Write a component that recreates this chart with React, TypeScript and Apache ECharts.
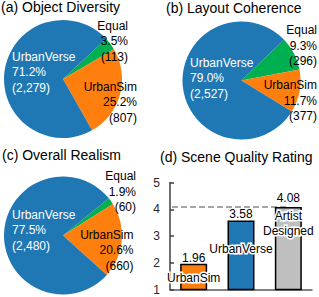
import React, { useEffect, useRef } from "react";
import * as echarts from "echarts";

// ---- data ----
const PIE_TITLES = ["(a) Object Diversity", "(b) Layout Coherence", "(c) Overall Realism"];
const SLICE_NAMES = ["Equal", "UrbanSim", "UrbanVerse"];
const DIVERSITY_COUNTS = [113, 807, 2279];
const DIVERSITY_PCT = [3.5, 25.2, 71.2];
const COHERENCE_COUNTS = [296, 377, 2527];
const COHERENCE_PCT = [9.3, 11.7, 79.0];
const REALISM_COUNTS = [60, 660, 2480];
const REALISM_PCT = [1.9, 20.6, 77.5];

const BAR_TITLE = "(d) Scene Quality Rating";
const RATING_CATEGORIES = ["UrbanSim", "UrbanVerse", "Artist Designed"];
const RATING_VALUES = [1.96, 3.58, 4.08];
const RATING_REFERENCE = 4.08;
const Y_MIN = 1;
const Y_MAX = 5;

// ---- styles / layout ----
const FONT = "'Liberation Sans', Arial, sans-serif";
const SLICE_COLORS = ["#00b050", "#ff7f0e", "#1f77b4"];
const SLICE_LABEL_COLORS = ["#000", "#000", "#fff"];
const BAR_COLORS = ["#ff7f0e", "#1f77b4", "#bfbfbf"];

const PIE_LAYOUT = [
  {
    center: [63, 79],
    radius: 59,
    startAngle: 43,
    labels: [
      { x: 128, y: 41, align: "right" },
      { x: 137, y: 102, align: "right" },
      { x: 12, y: 72, align: "left" },
    ],
    title: { left: 1, top: 0 },
  },
  {
    center: [241.5, 80.5],
    radius: 59,
    startAngle: 44,
    labels: [
      { x: 317, y: 45.5, align: "right" },
      { x: 317, y: 100.5, align: "right" },
      { x: 190, y: 78, align: "left" },
    ],
    title: { left: 166, top: 1 },
  },
  {
    center: [63, 235.5],
    radius: 59,
    startAngle: 39,
    labels: [
      { x: 136, y: 191.5, align: "right" },
      { x: 133.5, y: 250, align: "right" },
      { x: 12, y: 230, align: "left" },
    ],
    title: { left: 2, top: 148 },
  },
];

const GRID = { left: 170, right: 7, top: 182.5, bottom: 7.5 };
const VALUE_LABEL_GAP = [0, 0, 3];
const NAME_LABEL_POS: any[] = [
  { position: "insideBottom", distance: 4 },
  { position: "inside", offset: [0, -6] },
  { position: "insideTop", distance: 1 },
];

export default function App() {
  const ref = useRef<HTMLDivElement>(null);

  useEffect(() => {
    if (!ref.current) return;
    const chart = echarts.init(ref.current, undefined, { renderer: "svg" });

    const counts = [DIVERSITY_COUNTS, COHERENCE_COUNTS, REALISM_COUNTS];
    const pcts = [DIVERSITY_PCT, COHERENCE_PCT, REALISM_PCT];

    const pieSeries = counts.map((arr, k) => {
      const lay = PIE_LAYOUT[k];
      return {
        type: "pie",
        center: lay.center,
        radius: lay.radius,
        startAngle: lay.startAngle,
        clockwise: true,
        silent: true,
        minShowLabelAngle: 0,
        avoidLabelOverlap: false,
        itemStyle: { borderWidth: 0 },
        labelLine: { show: false },
        label: {
          show: true,
          position: "inside",
          fontSize: 12,
          lineHeight: 15.5,
          fontFamily: FONT,
          formatter: (p: any) =>
            `${p.name}\n${pcts[k][p.dataIndex].toFixed(1)}%\n(${Number(p.value).toLocaleString("en-US")})`,
        },
        labelLayout: (p: any) => {
          const l = lay.labels[p.dataIndex];
          return { x: l.x, y: l.y, align: l.align, verticalAlign: "middle" };
        },
        data: arr.map((v, i) => ({
          name: SLICE_NAMES[i],
          value: v,
          itemStyle: { color: SLICE_COLORS[i] },
          label: { color: SLICE_LABEL_COLORS[i] },
        })),
      };
    });

    const titles = [
      ...PIE_TITLES.map((t, k) => ({
        text: t,
        left: PIE_LAYOUT[k].title.left,
        top: PIE_LAYOUT[k].title.top,
        padding: 0,
        textStyle: { fontSize: 14, fontWeight: "normal", color: "#000", fontFamily: FONT },
      })),
      {
        text: BAR_TITLE,
        left: 160,
        top: 149.5,
        padding: 0,
        textStyle: { fontSize: 14, fontWeight: "normal", color: "#000", fontFamily: FONT },
      },
    ];

    const option: any = {
      animation: false,
      textStyle: { fontFamily: FONT },
      title: titles,
      grid: { ...GRID, containLabel: false },
      xAxis: {
        type: "category",
        data: RATING_CATEGORIES,
        axisLine: { show: true, lineStyle: { color: "#595959", width: 1.5 } },
        axisTick: { show: false },
        axisLabel: { show: false },
      },
      yAxis: {
        type: "value",
        min: Y_MIN,
        max: Y_MAX,
        interval: 1,
        axisLine: { show: true, lineStyle: { color: "#404040", width: 1.5 } },
        axisTick: { show: true, inside: true, length: 4, lineStyle: { color: "#404040", width: 1.5 } },
        axisLabel: { margin: 10, fontSize: 12, color: "#262626", fontFamily: FONT },
        splitLine: { show: false },
      },
      series: [
        ...pieSeries,
        {
          type: "bar",
          barWidth: 27,
          silent: true,
          itemStyle: { borderColor: "#000", borderWidth: 1.5 },
          label: {
            show: true,
            position: "top",
            fontSize: 12,
            color: "#000",
            fontFamily: FONT,
            textBorderColor: "#fff",
            textBorderWidth: 2,
          },
          data: RATING_VALUES.map((v, i) => ({
            value: v,
            itemStyle: { color: BAR_COLORS[i] },
            label: { distance: VALUE_LABEL_GAP[i] },
          })),
          markLine: {
            silent: true,
            symbol: "none",
            z: 1,
            label: { show: false },
            lineStyle: { color: "#a6a6a6", type: [6, 3], width: 2 },
            data: [
              [
                { coord: [RATING_CATEGORIES[0], RATING_REFERENCE], x: GRID.left + 2 },
                { coord: [RATING_CATEGORIES[2], RATING_REFERENCE] },
              ],
            ],
          },
        },
        {
          type: "bar",
          barWidth: 27,
          barGap: "-100%",
          silent: true,
          itemStyle: { color: "transparent" },
          label: {
            show: true,
            fontSize: 12,
            lineHeight: 15,
            color: "#000",
            fontFamily: FONT,
            textBorderColor: "#fff",
            textBorderWidth: 3,
            formatter: (p: any) => String(p.name).replace(" ", "\n"),
          },
          data: RATING_VALUES.map((v, i) => ({
            value: v,
            label: NAME_LABEL_POS[i],
          })),
        },
      ],
    };

    chart.setOption(option);
    return () => chart.dispose();
  }, []);

  return (
    <div
      ref={ref}
      style={{ position: "fixed", left: 0, top: 0, width: 319, height: 297, background: "#fff" }}
    />
  );
}
